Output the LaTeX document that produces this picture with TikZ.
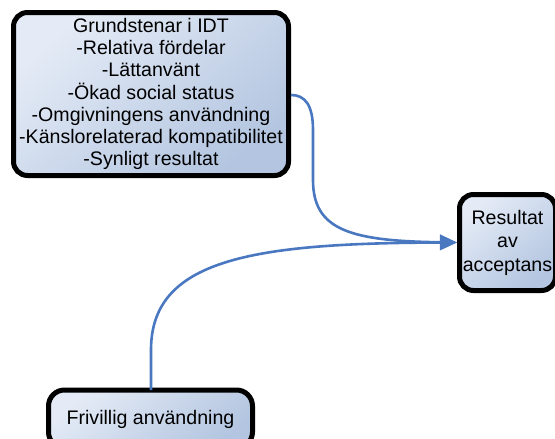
\documentclass[tikz,border=0pt]{standalone}
\usepackage{fontspec}
\setmainfont{Liberation Sans}
\usetikzlibrary{arrows.meta}
\definecolor{boxlight}{HTML}{E4EBF6}
\definecolor{boxdark}{HTML}{B3C5E0}
\definecolor{linkblue}{HTML}{4A78C0}
\tikzset{
  rbox/.style={draw=black, line width=5pt, rounded corners=14pt,
    top color=boxlight, bottom color=boxdark, shading angle=40,
    inner sep=0pt, align=center, font=\fontsize{19.6}{22.3}\selectfont},
  link/.style={draw=linkblue, line width=2.6pt,
    -{Triangle[length=17pt,width=15pt]}}
}
\begin{document}
\begin{tikzpicture}[x=1pt,y=-1pt]
\useasboundingbox (0,0) rectangle (555,439);
\clip (0,0) rectangle (555,439);
\node[rbox, minimum width=275pt, minimum height=163pt] (idt) at (151,94)
  {Grundstenar i IDT\\-Relativa fördelar\\-Lättanvänt\\-Ökad social status\\-Omgivningens användning\\-Känslorelaterad kompatibilitet\\-Synligt resultat};
\node[rbox, minimum width=96pt, minimum height=96pt, font=\fontsize{19.6}{23.5}\selectfont] (res) at (507.5,242.5)
  {Resultat\\av\\acceptans};
\node[rbox, minimum width=204pt, minimum height=58pt, rounded corners=16pt] (fri) at (150.5,419)
  {Frivillig användning};
\coordinate (tip) at (res.west);
\draw[link] (idt.east |- 0,95) .. controls (305,95) and (313,105) .. (313,130)
  -- (313,180) .. controls (313,230) and (350,241) .. (tip);
\draw[link] (151,390) -- (151,350) .. controls (151,260) and (250,243) .. (tip);
\end{tikzpicture}
\end{document}
